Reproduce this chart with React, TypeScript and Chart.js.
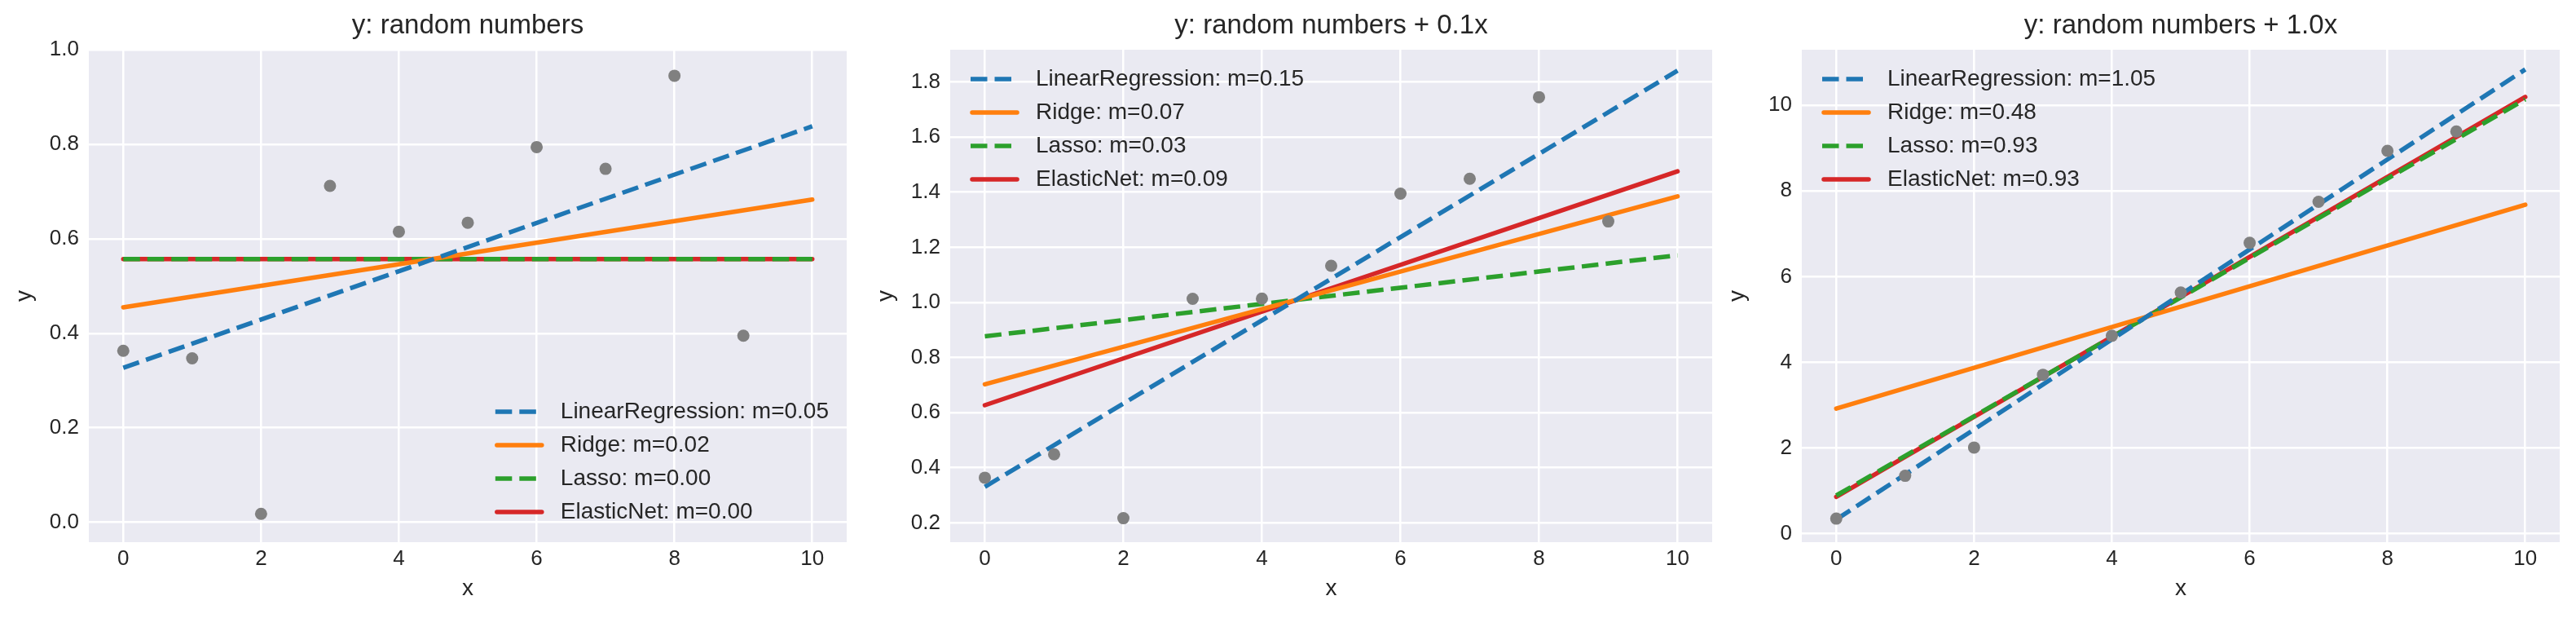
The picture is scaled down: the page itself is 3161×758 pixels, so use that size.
import React, { useEffect, useRef } from "react";
import { Chart, registerables } from "chart.js";

Chart.register(...registerables);

// ---------- data ----------
const xPoints = [0, 1, 2, 3, 4, 5, 6, 7, 8, 9];
const yRandom = [0.363, 0.347, 0.018, 0.712, 0.615, 0.634, 0.794, 0.748, 0.945, 0.395];
const yRandomPlus01 = [0.364, 0.449, 0.217, 1.013, 1.014, 1.133, 1.395, 1.449, 1.745, 1.294];
const yRandomPlus10 = [0.35, 1.35, 2.01, 3.71, 4.62, 5.63, 6.79, 7.75, 8.94, 9.39];

const fitX = [0, 10];
const lrFit1 = [0.327, 0.838];
const ridgeFit1 = [0.455, 0.683];
const lassoFit1 = [0.557, 0.557];
const enetFit1 = [0.557, 0.557];

const lrFit2 = [0.331, 1.841];
const ridgeFit2 = [0.703, 1.385];
const lassoFit2 = [0.877, 1.171];
const enetFit2 = [0.627, 1.476];

const lrFit3 = [0.33, 10.84];
const ridgeFit3 = [2.92, 7.68];
const lassoFit3 = [0.89, 10.14];
const enetFit3 = [0.86, 10.2];

const modelNames = ["LinearRegression", "Ridge", "Lasso", "ElasticNet"];
const slopeLabels1 = ["0.05", "0.02", "0.00", "0.00"];
const slopeLabels2 = ["0.15", "0.07", "0.03", "0.09"];
const slopeLabels3 = ["1.05", "0.48", "0.93", "0.93"];

const panelTitles = ["y: random numbers", "y: random numbers + 0.1x", "y: random numbers + 1.0x"];
const xTickStep = 2;
const yTickSteps = [0.2, 0.2, 2];
const yTickDecimals = [1, 1, 0];
const yMins = [-0.042, 0.13, -0.2];
const yMaxs = [1.0, 1.917, 11.3];

// ---------- style ----------
const FONT = "'Liberation Sans', Arial, sans-serif";
const TEXT = "#262626";
const COLORS = ["#1f77b4", "#ff7f0e", "#2ca02c", "#d62728"];
const DASHED = [true, false, true, false];
const DASH = [20.5, 9];
const LW = 5.5;

const bgPlugin = {
  id: "plotBg",
  beforeDraw(chart: any) {
    const { ctx, chartArea } = chart;
    if (!chartArea) return;
    ctx.save();
    ctx.fillStyle = "#eaeaf2";
    ctx.fillRect(chartArea.left, chartArea.top, chartArea.right - chartArea.left, chartArea.bottom - chartArea.top);
    ctx.restore();
  },
};

const insideLegend = {
  id: "insideLegend",
  afterDatasetsDraw(chart: any, _args: any, opts: any) {
    const { ctx, chartArea } = chart;
    const items = chart.data.datasets.filter((d: any) => d.showLine);
    ctx.save();
    ctx.font = `28px ${FONT}`;
    const maxW = Math.max(...items.map((d: any) => ctx.measureText(d.label).width));
    const rowGap = 41;
    let textX: number;
    let y0: number;
    if (opts.corner === "lowerRight") {
      textX = chartArea.right - 22 - maxW;
      y0 = chartArea.bottom - 37 - rowGap * (items.length - 1);
    } else {
      textX = chartArea.left + 105;
      y0 = chartArea.top + 36;
    }
    items.forEach((d: any, i: number) => {
      const y = y0 + i * rowGap;
      ctx.beginPath();
      ctx.strokeStyle = d.borderColor;
      ctx.lineWidth = d.borderWidth;
      ctx.setLineDash(d.borderDash || []);
      ctx.lineCap = d.borderCapStyle;
      if (d.borderDash && d.borderDash.length) {
        ctx.moveTo(textX - 80, y);
        ctx.lineTo(textX - 21, y);
      } else {
        ctx.moveTo(textX - 78, y);
        ctx.lineTo(textX - 23, y);
      }
      ctx.stroke();
      ctx.setLineDash([]);
      ctx.fillStyle = TEXT;
      ctx.textBaseline = "middle";
      ctx.textAlign = "left";
      ctx.fillText(d.label, textX, y);
    });
    ctx.restore();
  },
};

type PanelProps = {
  idx: number;
  ys: number[];
  fits: number[][];
  slopes: string[];
  corner: string;
  plotLeft: number;
  plotRight: number;
};

const Y_AXIS_W = 109;
const RIGHT_PAD = 10;
const H = 758;

function Panel({ idx, ys, fits, slopes, corner, plotLeft, plotRight }: PanelProps) {
  const ref = useRef<HTMLCanvasElement | null>(null);
  const width = plotRight - plotLeft + Y_AXIS_W + RIGHT_PAD;
  const left = plotLeft - Y_AXIS_W;

  useEffect(() => {
    if (!ref.current) return;
    const datasets: any[] = [
      {
        label: "data",
        data: xPoints.map((x, i) => ({ x, y: ys[i] })),
        showLine: false,
        pointRadius: 7.5,
        pointBackgroundColor: "#808080",
        pointBorderWidth: 0,
      },
      ...fits.map((f, k) => ({
        label: `${modelNames[k]}: m=${slopes[k]}`,
        data: fitX.map((x, i) => ({ x, y: f[i] })),
        showLine: true,
        fill: false,
        pointRadius: 0,
        borderColor: COLORS[k],
        borderWidth: LW,
        borderDash: DASHED[k] ? DASH : [],
        borderCapStyle: DASHED[k] ? "butt" : "round",
      })),
    ];
    const tickFont = { family: FONT, size: 26 };
    const chart = new Chart(ref.current, {
      type: "scatter",
      data: { datasets },
      plugins: [bgPlugin, insideLegend],
      options: {
        responsive: false,
        animation: false,
        layout: { padding: { left: 0, right: RIGHT_PAD, top: 0, bottom: 0 } },
        plugins: {
          legend: { display: false },
          tooltip: { enabled: false },
          title: {
            display: true,
            text: panelTitles[idx],
            fullSize: false,
            color: TEXT,
            font: { family: FONT, size: 33, weight: "normal" },
            padding: { top: 12, bottom: 9.4 },
          },
          insideLegend: { corner },
        } as any,
        scales: {
          x: {
            type: "linear",
            min: -0.5,
            max: 10.5,
            ticks: {
              stepSize: xTickStep,
              includeBounds: false,
              padding: 5,
              color: TEXT,
              font: tickFont,
              maxRotation: 0,
              autoSkip: false,
              callback: (v: any) => String(v),
            },
            grid: { color: "#ffffff", lineWidth: 2.5, drawTicks: false },
            border: { display: false },
            title: {
              display: true,
              text: "x",
              color: TEXT,
              font: { family: FONT, size: 28 },
              padding: { top: 0, bottom: 18.5 },
            },
            afterFit: (s: any) => {
              s.height = 93;
            },
          },
          y: {
            type: "linear",
            min: yMins[idx],
            max: yMaxs[idx],
            ticks: {
              stepSize: yTickSteps[idx],
              includeBounds: false,
              padding: 12,
              color: TEXT,
              font: tickFont,
              autoSkip: false,
              callback: (v: any) => Number(v).toFixed(yTickDecimals[idx]),
            },
            grid: { color: "#ffffff", lineWidth: 2.5, drawTicks: false },
            border: { display: false },
            title: {
              display: true,
              text: "y",
              color: TEXT,
              font: { family: FONT, size: 28 },
              padding: { top: 13, bottom: 0 },
            },
            afterFit: (s: any) => {
              s.width = Y_AXIS_W;
            },
          },
        } as any,
      },
    } as any);
    return () => chart.destroy();
  }, []);

  return (
    <canvas
      ref={ref}
      width={width}
      height={H}
      style={{ position: "absolute", left, top: 0, width, height: H }}
    />
  );
}

export default function App() {
  return (
    <div style={{ position: "absolute", left: 0, top: 0, width: 3161, height: H, background: "#ffffff", overflow: "hidden" }}>
      <Panel idx={0} ys={yRandom} fits={[lrFit1, ridgeFit1, lassoFit1, enetFit1]} slopes={slopeLabels1} corner="lowerRight" plotLeft={109} plotRight={1039} />
      <Panel idx={1} ys={yRandomPlus01} fits={[lrFit2, ridgeFit2, lassoFit2, enetFit2]} slopes={slopeLabels2} corner="upperLeft" plotLeft={1166} plotRight={2101} />
      <Panel idx={2} ys={yRandomPlus10} fits={[lrFit3, ridgeFit3, lassoFit3, enetFit3]} slopes={slopeLabels3} corner="upperLeft" plotLeft={2211} plotRight={3141} />
    </div>
  );
}
